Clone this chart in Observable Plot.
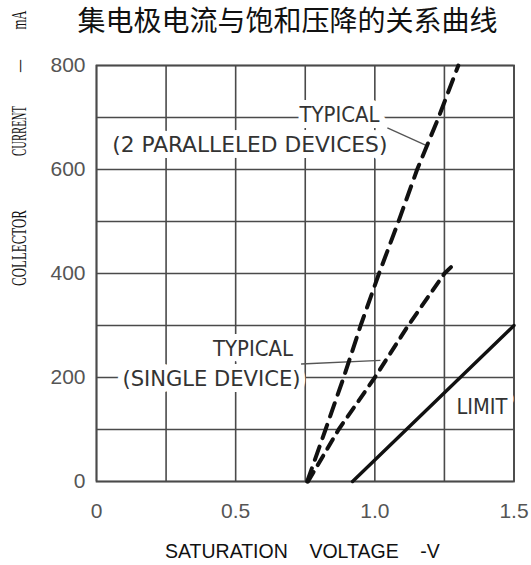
<!DOCTYPE html>
<html>
<head>
<meta charset="utf-8">
<script src="https://cdn.jsdelivr.net/npm/d3@7"></script>
<script src="https://cdn.jsdelivr.net/npm/@observablehq/plot@0.6"></script>
<style>
  html, body { margin: 0; padding: 0; background: #fff; }
  #chart svg { display: block; }
</style>
</head>
<body>
<div id="chart"></div>
<script>
// ---- data ----
const chartTitle = "集电极电流与饱和压降的关系曲线";
const xAxisTitle = "SATURATION    VOLTAGE    -V";
const yAxisWords = ["COLLECTOR", "CURRENT", "–", "mA"];

const xTicks = [0, 0.5, 1.0, 1.5];
const xTickLabels = ["0", "0.5", "1.0", "1.5"];
const yTicks = [0, 200, 400, 600, 800];
const yTickLabels = ["0", "200", "400", "600", "800"];
const xGrid = [0, 0.25, 0.5, 0.75, 1.0, 1.25, 1.5];
const yGrid = [0, 100, 200, 300, 400, 500, 600, 700, 800];

// typical, 2 paralleled devices (dashed)
const parallelVolts = [0.757, 0.823, 0.888, 0.949, 1.015, 1.085, 1.152, 1.229, 1.30];
const parallelMilliamps = [0, 100, 200, 300, 400, 500, 600, 700, 800];
// typical, single device (dashed)
const singleVolts = [0.76, 0.87, 1.0, 1.12, 1.25, 1.285];
const singleMilliamps = [0, 100, 200, 300, 400, 418];
// limit (solid)
const limitVolts = [0.92, 1.5];
const limitMilliamps = [0, 300];

// annotations (anchored in data units)
const labelTexts = ["TYPICAL", "(2 PARALLELED DEVICES)", "TYPICAL", "(SINGLE DEVICE)", "LIMIT"];
const labelVolts = [0.873, 0.551, 0.562, 0.413, 1.385];
const labelMilliamps = [704, 648, 255, 198, 143];
const leaderVoltsFrom = [1.045, 0.735];
const leaderMilliampsFrom = [680, 226];
const leaderVoltsTo = [1.19, 1.02];
const leaderMilliampsTo = [645, 233];

// ---- tables built from the arrays ----
const toRows = (vs, is) => vs.map((v, k) => ({v, i: is[k]}));
const parallel = toRows(parallelVolts, parallelMilliamps);
const single = toRows(singleVolts, singleMilliamps);
const limit = toRows(limitVolts, limitMilliamps);
const labels = labelTexts.map((t, k) => ({t, v: labelVolts[k], i: labelMilliamps[k]}));
const leaders = leaderVoltsFrom.map((v, k) => ({
  x1: v, y1: leaderMilliampsFrom[k], x2: leaderVoltsTo[k], y2: leaderMilliampsTo[k]
}));

const gridColor = "#4a4a4a";
const annoFont = "'DejaVu Sans Condensed', 'Liberation Sans Narrow', 'DejaVu Sans', sans-serif";

const chart = Plot.plot({
  width: 531,
  height: 565,
  marginTop: 65,
  marginBottom: 84,
  marginLeft: 96,
  marginRight: 17.5,
  style: {
    fontFamily: "'Liberation Sans', Arial, sans-serif",
    fontSize: "21px",
    color: "#555",
    background: "#fff"
  },
  x: {
    domain: [0, 1.5],
    ticks: xTicks,
    tickFormat: d => xTickLabels[xTicks.indexOf(d)],
    tickSize: 0,
    tickPadding: 22,
    label: null
  },
  y: {
    domain: [0, 800],
    ticks: yTicks,
    tickFormat: d => yTickLabels[yTicks.indexOf(d)],
    tickSize: 0,
    tickPadding: 11,
    label: null
  },
  marks: [
    Plot.ruleX(xGrid, {stroke: gridColor, strokeWidth: 1.6}),
    Plot.ruleY(yGrid, {stroke: gridColor, strokeWidth: 1.6}),
    Plot.frame({stroke: gridColor, strokeWidth: 1.8}),
    Plot.text(labels, {
      x: "v", y: "i", text: "t",
      fontFamily: annoFont, fontSize: 22,
      fill: "#333", stroke: "white", strokeWidth: 12, strokeLinejoin: "round"
    }),
    Plot.link(leaders, {x1: "x1", y1: "y1", x2: "x2", y2: "y2", stroke: "#555", strokeWidth: 1.3}),
    Plot.line(limit, {x: "v", y: "i", stroke: "#111", strokeWidth: 3.4}),
    Plot.line(single, {x: "v", y: "i", stroke: "#111", strokeWidth: 4, strokeDasharray: "11,8"}),
    Plot.line(parallel, {x: "v", y: "i", stroke: "#111", strokeWidth: 4, strokeDasharray: "14,9"})
  ]
});

document.getElementById("chart").appendChild(chart);

// fit the lettering widths to the original lettering
const fit = {"TYPICAL": 80, "(2 PARALLELED DEVICES)": 275, "(SINGLE DEVICE)": 178, "LIMIT": 51};
chart.querySelectorAll("text").forEach(t => {
  const w = fit[t.textContent];
  if (w) {
    t.setAttribute("textLength", w);
    t.setAttribute("lengthAdjust", "spacingAndGlyphs");
  }
});

const svg = d3.select(chart);

// title
svg.append("text")
  .attr("x", 287.5).attr("y", 31)
  .attr("text-anchor", "middle")
  .attr("font-family", "'Noto Sans CJK SC', sans-serif")
  .attr("font-size", 28)
  .attr("fill", "#111")
  .text(chartTitle);

// x axis title
svg.append("text")
  .attr("x", 165).attr("y", 558)
  .attr("text-anchor", "start")
  .attr("xml:space", "preserve")
  .style("white-space", "pre")
  .attr("font-family", "'Liberation Sans', Arial, sans-serif")
  .attr("font-size", 19.5)
  .attr("fill", "#111")
  .text(xAxisTitle);

// y axis title (tall, narrow serif lettering, reading upward)
const yWordLayout = [{cy: 248, len: 76}, {cy: 131, len: 50}, {cy: 66, len: 12}, {cy: 20, len: 19}];
yAxisWords.forEach((w, k) => {
  const L = yWordLayout[k];
  svg.append("text")
    .attr("transform", `translate(25.5,${L.cy}) rotate(-90) scale(1,1.55)`)
    .attr("text-anchor", "middle")
    .attr("font-family", "'Liberation Serif', 'Times New Roman', serif")
    .attr("font-size", 14)
    .attr("fill", "#111")
    .attr("textLength", L.len)
    .attr("lengthAdjust", "spacingAndGlyphs")
    .text(w);
});
</script>
</body>
</html>
